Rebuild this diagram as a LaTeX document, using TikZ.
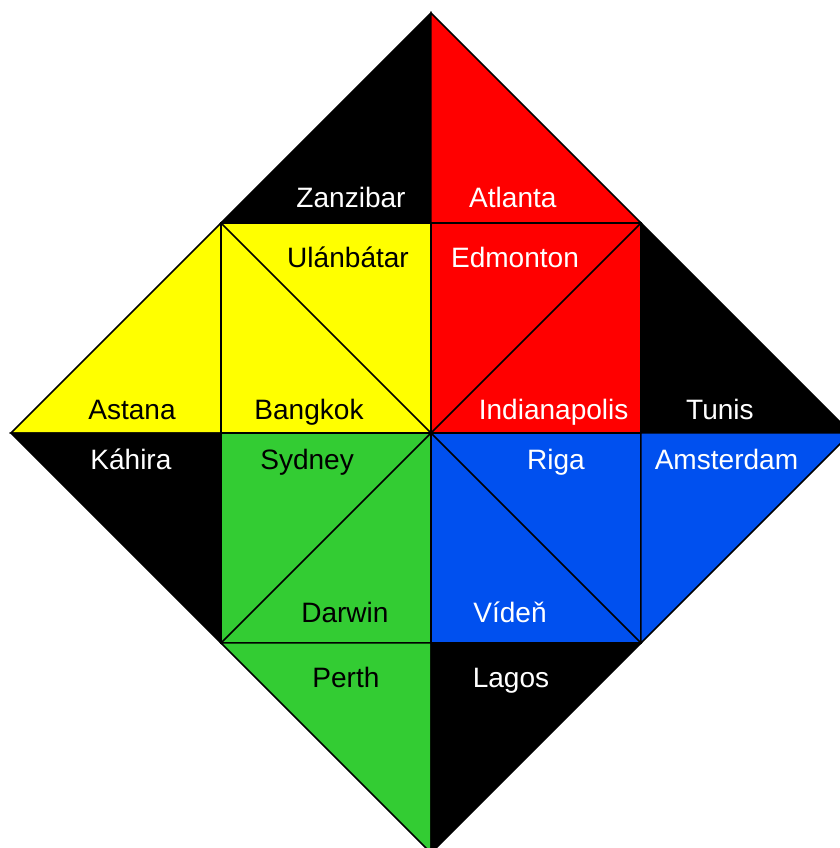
\documentclass[tikz,border=0pt]{standalone}
\usepackage{fontspec}
\setmainfont{Liberation Sans}
\definecolor{tred}{HTML}{FF0000}
\definecolor{tyellow}{HTML}{FFFF00}
\definecolor{tgreen}{HTML}{33CC33}
\definecolor{tblue}{HTML}{0050EF}
\tikzset{
  piece/.style={draw=black,line width=0.6pt,line join=miter},
  city/.style={anchor=base,inner sep=0pt,font=\fontsize{11.4}{13.7}\selectfont},
  wcity/.style={city,text=white},
  bcity/.style={city,text=black}
}

\begin{document}
\begin{tikzpicture}[x=3cm,y=3cm]
\useasboundingbox (-2.0524,-1.9762) rectangle (1.9476,2.0619);
% top triangles
\filldraw[piece,fill=black] (0,2) -- (-1,1) -- (0,1) -- cycle;
\filldraw[piece,fill=tred] (0,2) -- (0,1) -- (1,1) -- cycle;
% middle row, upper half
\filldraw[piece,fill=tyellow] (-2,0) -- (-1,1) -- (-1,0) -- cycle;
\filldraw[piece,fill=tyellow] (-1,0) rectangle (0,1);
\draw[piece] (-1,1) -- (0,0);
\filldraw[piece,fill=tred] (0,0) rectangle (1,1);
\draw[piece] (0,0) -- (1,1);
\filldraw[piece,fill=black] (1,1) -- (2,0) -- (1,0) -- cycle;
% middle row, lower half
\filldraw[piece,fill=black] (-2,0) -- (-1,0) -- (-1,-1) -- cycle;
\filldraw[piece,fill=tgreen] (-1,-1) rectangle (0,0);
\draw[piece] (0,0) -- (-1,-1);
\filldraw[piece,fill=tblue] (0,-1) rectangle (1,0);
\draw[piece] (0,0) -- (1,-1);
\filldraw[piece,fill=tblue] (1,0) -- (2,0) -- (1,-1) -- cycle;
% bottom triangles
\filldraw[piece,fill=tgreen] (-1,-1) -- (0,-1) -- (0,-2) -- cycle;
\filldraw[piece,fill=black] (0,-1) -- (1,-1) -- (0,-2) -- cycle;
% labels
\node[wcity] (zanzibar) at (-0.381,1.073) {Zanzibar};
\node[wcity] (atlanta) at (0.390,1.073) {Atlanta};
\node[bcity] (ulanbatar) at (-0.395,0.789) {Ulánbátar};
\node[wcity] (edmonton) at (0.400,0.789) {Edmonton};
\node[bcity] (astana) at (-1.424,0.062) {Astana};
\node[bcity] (bangkok) at (-0.581,0.062) {Bangkok};
\node[wcity] (indianapolis) at (0.584,0.062) {Indianapolis};
\node[wcity] (tunis) at (1.376,0.062) {Tunis};
\node[wcity] (kahira) at (-1.429,-0.176) {Káhira};
\node[bcity] (sydney) at (-0.590,-0.176) {Sydney};
\node[wcity] (riga) at (0.595,-0.176) {Riga};
\node[wcity] (amsterdam) at (1.407,-0.176) {Amsterdam};
\node[bcity] (darwin) at (-0.410,-0.903) {Darwin};
\node[wcity] (viden) at (0.376,-0.903) {Vídeň};
\node[bcity] (perth) at (-0.405,-1.212) {Perth};
\node[wcity] (lagos) at (0.381,-1.212) {Lagos};
\end{tikzpicture}
\end{document}
